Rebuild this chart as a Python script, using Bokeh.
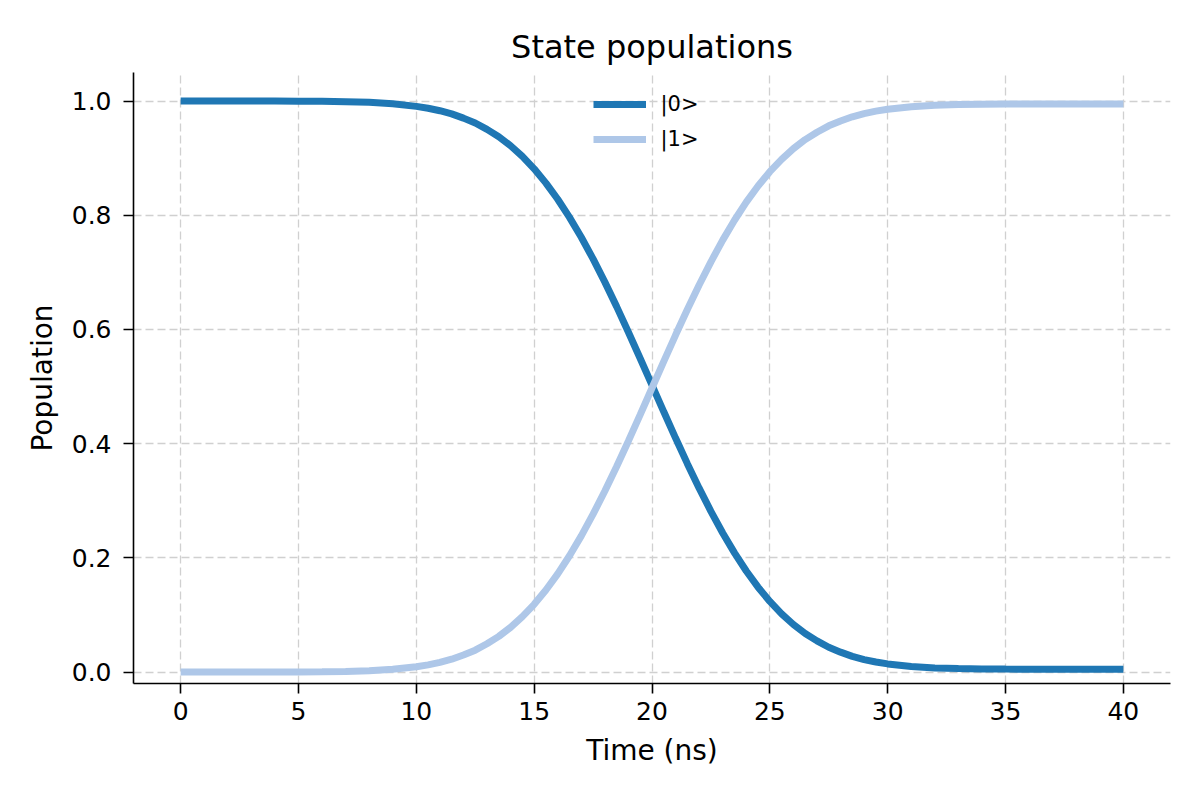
from bokeh.plotting import figure
from bokeh.models import Range1d, FixedTicker, ColumnDataSource, Legend, LegendItem, CustomJSTickFormatter
from bokeh.embed import file_html
from bokeh.resources import INLINE

time_ns = [0, 1, 2, 3, 4, 5, 6, 7, 8, 9, 10, 10.5, 11, 11.5, 12, 12.5, 13, 13.5, 14, 14.5,
           15, 15.5, 16, 16.5, 17, 17.5, 18, 18.5, 19, 19.5, 20, 20.5, 21, 21.5, 22, 22.5,
           23, 23.5, 24, 24.5, 25, 25.5, 26, 26.5, 27, 27.5, 28, 28.5, 29, 29.5, 30,
           31, 32, 33, 34, 35, 36, 37, 38, 39, 40]

pop0 = [1.0000, 1.0000, 1.0000, 1.0000, 0.9999, 0.9998, 0.9995, 0.9989, 0.9977, 0.9952,
        0.9907, 0.9874, 0.9831, 0.9775, 0.9701, 0.9616, 0.9504, 0.9375, 0.9217, 0.9030,
        0.8813, 0.8563, 0.8280, 0.7963, 0.7615, 0.7235, 0.6829, 0.6400, 0.5952, 0.5492,
        0.5025, 0.4558, 0.4098, 0.3650, 0.3221, 0.2815, 0.2435, 0.2087, 0.1770, 0.1487,
        0.1237, 0.1020, 0.0833, 0.0675, 0.0546, 0.0434, 0.0349, 0.0275, 0.0219, 0.0176,
        0.0143, 0.0098, 0.0073, 0.0061, 0.0055, 0.0052, 0.0051, 0.0050, 0.0050, 0.0050, 0.0050]

pop1 = [0.0000, 0.0000, 0.0000, 0.0000, 0.0001, 0.0002, 0.0005, 0.0011, 0.0023, 0.0048,
        0.0093, 0.0126, 0.0169, 0.0225, 0.0299, 0.0384, 0.0496, 0.0625, 0.0783, 0.0970,
        0.1187, 0.1437, 0.1720, 0.2037, 0.2385, 0.2765, 0.3171, 0.3600, 0.4048, 0.4508,
        0.4975, 0.5442, 0.5902, 0.6350, 0.6779, 0.7185, 0.7565, 0.7913, 0.8230, 0.8513,
        0.8763, 0.8980, 0.9167, 0.9325, 0.9454, 0.9566, 0.9651, 0.9725, 0.9781, 0.9824,
        0.9857, 0.9902, 0.9927, 0.9939, 0.9945, 0.9948, 0.9949, 0.9950, 0.9950, 0.9950, 0.9950]

series_labels = ["|0>", "|1>"]
series_colors = ["#1f77b4", "#aec7e8"]
x_ticks = [0, 5, 10, 15, 20, 25, 30, 35, 40]
y_ticks = [0.0, 0.2, 0.4, 0.6, 0.8, 1.0]

FONT = "DejaVu Sans"

p = figure(width=1200, height=800, output_backend="svg", toolbar_location=None,
           x_range=Range1d(-2, 42), y_range=Range1d(-0.02, 1.05),
           min_border_left=133, min_border_right=30, min_border_top=72, min_border_bottom=117,
           title="State populations")
p.outline_line_color = None
p.background_fill_color = "white"
p.border_fill_color = "white"

p.title.align = "center"
p.title.text_font = FONT
p.title.text_font_size = "32px"
p.title.text_font_style = "normal"
p.title.text_color = "black"
p.title.standoff = 14

src = ColumnDataSource(dict(t=time_ns, p0=pop0, p1=pop1))
r0 = p.line("t", "p0", source=src, line_color=series_colors[0], line_width=7)
r1 = p.line("t", "p1", source=src, line_color=series_colors[1], line_width=7)

for ax in (p.xaxis[0], p.yaxis[0]):
    ax.axis_line_color = "black"
    ax.axis_line_width = 1.6
    ax.major_tick_line_color = "black"
    ax.major_tick_line_width = 1.6
    ax.major_tick_out = 10
    ax.major_tick_in = 0
    ax.minor_tick_line_color = None
    ax.major_label_text_font = FONT
    ax.major_label_text_font_size = "25px"
    ax.major_label_text_color = "black"
    ax.axis_label_text_font = FONT
    ax.axis_label_text_font_size = "28px"
    ax.axis_label_text_font_style = "normal"
    ax.axis_label_text_color = "black"

p.xaxis[0].ticker = FixedTicker(ticks=x_ticks)
p.yaxis[0].ticker = FixedTicker(ticks=y_ticks)
p.xaxis[0].axis_label = "Time (ns)"
p.yaxis[0].axis_label = "Population"
p.xaxis[0].major_label_standoff = 8
p.yaxis[0].major_label_standoff = 12
p.xaxis[0].axis_label_standoff = 11
p.yaxis[0].axis_label_standoff = 10
p.yaxis[0].formatter = CustomJSTickFormatter(code="return tick.toFixed(1);")

for g in (p.xgrid[0], p.ygrid[0]):
    g.grid_line_color = "#d0d0d0"
    g.grid_line_width = 1.3
    g.grid_line_dash = "8 4"

legend = Legend(items=[LegendItem(label=series_labels[0], renderers=[r0]),
                       LegendItem(label=series_labels[1], renderers=[r1])],
                location="top_center")
legend.border_line_color = None
legend.background_fill_alpha = 0
legend.label_text_font = FONT
legend.label_text_font_size = "21px"
legend.label_text_color = "black"
legend.glyph_width = 53
legend.glyph_height = 20
legend.label_height = 20
legend.label_width = 50
legend.spacing = 11
legend.label_standoff = 15
legend.margin = 20
legend.padding = 10
p.add_layout(legend)

open("out.html", "w").write(file_html(p, INLINE))
